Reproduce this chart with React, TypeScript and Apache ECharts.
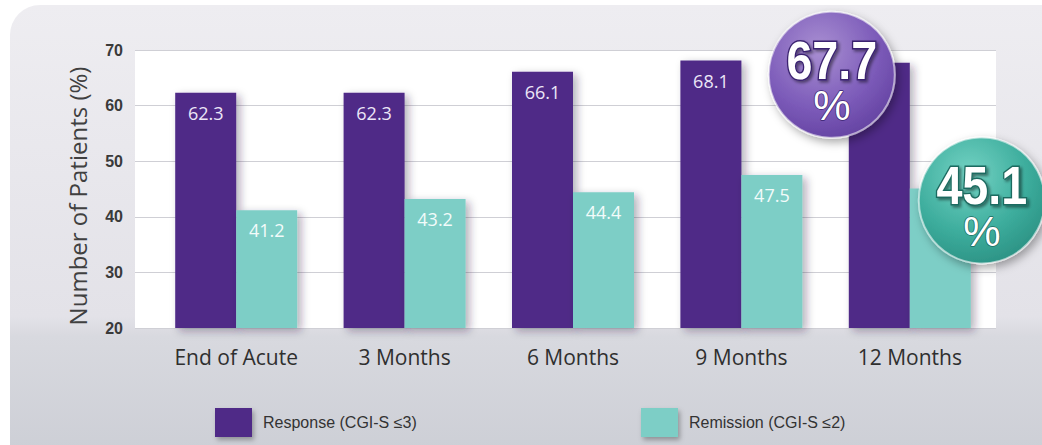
import React, { useEffect, useRef } from "react";
import * as echarts from "echarts";

const categories = ["End of Acute", "3 Months", "6 Months", "9 Months", "12 Months"];
const responseValues = [62.3, 62.3, 66.1, 68.1, 67.7];
const remissionValues = [41.2, 43.2, 44.4, 47.5, 45.1];
const yMin = 20;
const yMax = 70;
const yInterval = 10;
const seriesNames = ["Response (CGI-S \u22643)", "Remission (CGI-S \u22642)"];
const yTitle = "Number of Patients (%)";

const PURPLE = "#4f2a87";
const TEAL = "#7dcec6";

export default function App() {
  const ref = useRef<HTMLDivElement>(null);
  useEffect(() => {
    if (!ref.current) return;
    const chart = echarts.init(ref.current, undefined, { renderer: "svg" });
    const lastIdx = categories.length - 1;
    const barShadow = {
      shadowColor: "rgba(40,30,60,0.35)",
      shadowBlur: 8,
      shadowOffsetX: 4,
      shadowOffsetY: 3,
    };
    const panel = {
      id: "panel",
      type: "rect",
      z: -10,
      silent: true,
      shape: { x: 10, y: 5, width: 1040, height: 445, r: [30, 0, 0, 0] },
      style: {
        fill: {
          type: "linear",
          x: 0, y: 0, x2: 0, y2: 1,
          colorStops: [
            { offset: 0, color: "#eeedf1" },
            { offset: 0.7, color: "#e3e2e8" },
            { offset: 0.745, color: "#d8d9df" },
            { offset: 1, color: "#cdcfd6" },
          ],
        },
      },
    };
    const legendText = { fontFamily: "Liberation Sans", fontSize: 16, color: "#333333", padding: [0, 0, 0, 6] };
    const legendItem = { shadowColor: "rgba(0,0,0,0.3)", shadowBlur: 5, shadowOffsetX: 2, shadowOffsetY: 3 };
    chart.setOption({
      animation: false,
      backgroundColor: "#ffffff",
      grid: [
        { left: 135, right: 46, top: 50, bottom: 117, show: true, backgroundColor: "#ffffff", borderWidth: 0 },
        { left: 152, right: 48, top: 50, bottom: 117 },
      ],
      legend: [
        {
          data: [seriesNames[0]],
          left: 210,
          top: 403,
          itemWidth: 37,
          itemHeight: 29,
          icon: "rect",
          itemStyle: legendItem,
          textStyle: legendText,
        },
        {
          data: [seriesNames[1]],
          left: 636,
          top: 403,
          itemWidth: 37,
          itemHeight: 29,
          icon: "rect",
          itemStyle: legendItem,
          textStyle: legendText,
        },
      ],
      xAxis: [
        {
          type: "category",
          gridIndex: 0,
          data: categories,
          axisLine: { show: true, lineStyle: { color: "#a6a6ac", width: 1.5, shadowColor: "rgba(0,0,0,0.25)", shadowBlur: 4, shadowOffsetY: 2 } },
          axisTick: { show: false },
          axisLabel: { show: false },
        },
        {
          type: "category",
          gridIndex: 1,
          data: categories,
          axisLine: { show: false },
          axisTick: { show: false },
          axisLabel: {
            margin: 18,
            fontFamily: "Open Sans",
            fontSize: 21,
            color: "#2f2f2f",
          },
        },
      ],
      yAxis: [
        {
          type: "value",
          gridIndex: 0,
          min: yMin,
          max: yMax,
          interval: yInterval,
          name: yTitle,
          nameLocation: "middle",
          nameRotate: 90,
          nameGap: 46,
          nameTextStyle: { fontFamily: "Open Sans", fontSize: 24, color: "#404040", padding: [0, 14, 0, 0] },
          axisLine: { show: false },
          axisTick: { show: false },
          axisLabel: { margin: 12, fontFamily: "Liberation Sans", fontSize: 16, fontWeight: "bold", color: "#3a3a3a" },
          splitLine: { show: true, lineStyle: { color: "#cfcfd5", width: 1 } },
        },
        {
          type: "value",
          gridIndex: 1,
          min: yMin,
          max: yMax,
          interval: yInterval,
          show: false,
          splitLine: { show: false },
        },
      ],
      series: [
        {
          name: seriesNames[0],
          type: "bar",
          xAxisIndex: 1,
          yAxisIndex: 1,
          data: responseValues,
          barWidth: 61,
          barGap: "0%",
          itemStyle: { color: PURPLE, ...barShadow },
          label: {
            show: true,
            position: "insideTop",
            distance: 11,
            fontFamily: "Open Sans",
            fontSize: 18,
            color: "#ece6f7",
            formatter: (p: any) => (p.dataIndex === lastIdx ? "" : String(p.value)),
          },
        },
        {
          name: seriesNames[1],
          type: "bar",
          xAxisIndex: 1,
          yAxisIndex: 1,
          data: remissionValues,
          barWidth: 61,
          barGap: "0%",
          itemStyle: { color: TEAL, ...barShadow },
          label: {
            show: true,
            position: "insideTop",
            distance: 11,
            fontFamily: "Open Sans",
            fontSize: 18,
            color: "#f2fbfa",
            formatter: (p: any) => (p.dataIndex === lastIdx ? "" : String(p.value)),
          },
        },
      ],
    });

    const makeBubble = (id: string, value: number, dx: number, dy: number, stops: string[], outline: string) => {
      const pt = chart.convertToPixel({ gridIndex: 1 }, [lastIdx, value]) as number[];
      return {
        id,
        type: "group",
        x: pt[0] + dx,
        y: pt[1] + dy,
        z: 100,
        children: [
          {
            type: "circle",
            z: 100,
            shape: { cx: 0, cy: 0, r: 63 },
            style: {
              fill: {
                type: "radial",
                x: 0.4, y: 0.3, r: 0.85,
                colorStops: [
                  { offset: 0, color: stops[0] },
                  { offset: 0.55, color: stops[1] },
                  { offset: 1, color: stops[2] },
                ],
              },
              stroke: "rgba(255,255,255,0.55)",
              lineWidth: 2,
              shadowBlur: 10,
              shadowColor: "rgba(0,0,0,0.35)",
              shadowOffsetX: 3,
              shadowOffsetY: 4,
            },
          },
          {
            type: "text",
            z: 101,
            x: 0,
            y: -14,
            scaleX: 0.88,
            style: {
              text: String(value),
              font: "bold 53px 'Liberation Sans', sans-serif",
              fill: "#ffffff",
              stroke: outline,
              lineWidth: 3,
              align: "center",
              verticalAlign: "middle",
              textAlign: "center",
              textVerticalAlign: "middle",
              textShadowColor: "rgba(0,0,0,0.45)",
              textShadowBlur: 3,
              textShadowOffsetX: 2,
              textShadowOffsetY: 2,
            },
          },
          {
            type: "text",
            z: 101,
            x: 0,
            y: 31,
            style: {
              text: "%",
              font: "normal 42px 'Liberation Sans', sans-serif",
              fill: "#ffffff",
              stroke: outline,
              lineWidth: 1.5,
              align: "center",
              verticalAlign: "middle",
              textAlign: "center",
              textVerticalAlign: "middle",
            },
          },
        ],
      };
    };

    chart.setOption({
      graphic: [
        panel,
        makeBubble("bubResp", responseValues[lastIdx], -78, 12, ["#a98fd2", "#7c5bb9", "#5a3898"], "#3b2470"),
        makeBubble("bubRem", remissionValues[lastIdx], 72, 12, ["#74d3c4", "#3cac9c", "#25877a"], "#1d6b60"),
      ],
    });

    return () => chart.dispose();
  }, []);
  return <div ref={ref} style={{ position: "absolute", left: 0, top: 0, width: 1042, height: 445 }} />;
}
